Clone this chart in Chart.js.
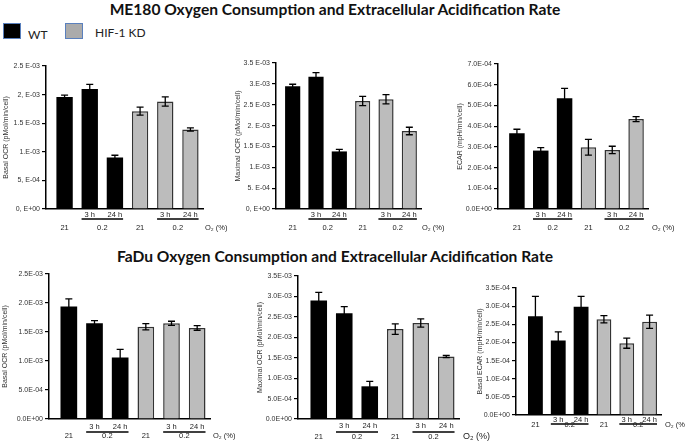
<!DOCTYPE html>
<html>
<head>
<meta charset="utf-8">
<script src="https://cdn.jsdelivr.net/npm/chart.js@4.4.1/dist/chart.umd.min.js"></script>
<style>
  body { margin: 0; background: #fff; }
  #page { position: relative; width: 685px; height: 443px; overflow: hidden; }
  canvas { position: absolute; }
  .title { position: absolute; left: 0; width: 670px; text-align: center; font-family: Lato, sans-serif;
           font-weight: bold; font-size: 15.6px; line-height: 18px; color: #111; white-space: nowrap; }
  .box { position: absolute; width: 16px; height: 14px; border: 1.5px solid #5a80bd; }
  .legend { position: absolute; font-family: Lato, sans-serif; font-size: 12px; line-height: 14px; color: #222; }
</style>
</head>
<body>
<div id="page">
  <div class="title" style="top:0px">ME180 Oxygen Consumption and Extracellular Acidification Rate</div>
  <div class="title" style="top:247px">FaDu Oxygen Consumption and Extracellular Acidification Rate</div>

  <div class="box" style="left:3px; top:23px; background:#000"></div>
  <div class="legend" style="left:28px; top:28px">WT</div>
  <div class="box" style="left:65px; top:23px; background:#ababab"></div>
  <div class="legend" style="left:95px; top:26px">HIF-1 KD</div>

  <canvas id="c1" width="240" height="180" style="left:1px; top:56px"></canvas>
  <canvas id="c2" width="222" height="183" style="left:233px; top:53px"></canvas>
  <canvas id="c3" width="230" height="182" style="left:455px; top:54px"></canvas>
  <canvas id="c4" width="240" height="179" style="left:0px; top:264px"></canvas>
  <canvas id="c5" width="250" height="177" style="left:255px; top:266px"></canvas>
  <canvas id="c6" width="210" height="165" style="left:475px; top:278px"></canvas>
</div>

<script>
// bars: WT 21%, WT 0.2% 3 h, WT 0.2% 24 h, HIF-1 KD 21%, KD 0.2% 3 h, KD 0.2% 24 h
const categories = ['WT 21', 'WT 0.2 3 h', 'WT 0.2 24 h', 'KD 21', 'KD 0.2 3 h', 'KD 0.2 24 h'];
const timeLabels = ['', '3 h', '24 h', '', '3 h', '24 h'];
const o2Labels = ['21', '0.2', '21', '0.2'];
const o2Spans = [[0, 0], [1, 2], [3, 3], [4, 5]];

// ME180
const me180Basal = [1.96e-3, 2.10e-3, 0.90e-3, 1.71e-3, 1.88e-3, 1.39e-3];
const me180BasalErr = [0.03e-3, 0.08e-3, 0.04e-3, 0.07e-3, 0.08e-3, 0.03e-3];
const me180BasalTicks = ['0, E+00', '5, E-04', '1.E-03', '1.5 E-03', '2, E-03', '2.5 E-03'];

const me180Max = [2.94e-3, 3.17e-3, 1.38e-3, 2.59e-3, 2.63e-3, 1.87e-3];
const me180MaxErr = [0.05e-3, 0.10e-3, 0.05e-3, 0.11e-3, 0.11e-3, 0.09e-3];
const me180MaxTicks = ['0, E+00', '5. E-04', '1.E-03', '1.5 E-03', '2. E-03', '2.5 E-03', '3.E-03', '3.5 E-03'];

const me180Ecar = [3.66e-4, 2.82e-4, 5.35e-4, 2.98e-4, 2.85e-4, 4.34e-4];
const me180EcarErr = [0.19e-4, 0.14e-4, 0.47e-4, 0.38e-4, 0.18e-4, 0.12e-4];
const me180EcarTicks = ['0.0E+00', '1.0E-04', '2.0E-04', '3.0E-04', '4.0E-04', '5.0E-04', '6.0E-04', '7.0E-04'];

// FaDu
const faduBasal = [1.94e-3, 1.65e-3, 1.06e-3, 1.59e-3, 1.65e-3, 1.57e-3];
const faduBasalErr = [0.13e-3, 0.045e-3, 0.14e-3, 0.055e-3, 0.035e-3, 0.04e-3];
const faduBasalTicks = ['0.0E+00', '5.0E-04', '1.0E-03', '1.5E-03', '2.0E-03', '2.5E-03'];

const faduMax = [2.90e-3, 2.59e-3, 0.80e-3, 2.20e-3, 2.35e-3, 1.53e-3];
const faduMaxErr = [0.20e-3, 0.16e-3, 0.12e-3, 0.13e-3, 0.10e-3, 0.025e-3];
const faduMaxTicks = ['0.0E+00', '5.0E-04', '1.0E-03', '1.5E-03', '2.0E-03', '2.5E-03', '3.0E-03', '3.5E-03'];

const faduEcar = [2.72e-4, 2.05e-4, 2.98e-4, 2.64e-4, 1.98e-4, 2.57e-4];
const faduEcarErr = [0.55e-4, 0.24e-4, 0.29e-4, 0.10e-4, 0.14e-4, 0.18e-4];
const faduEcarTicks = ['0.0E+00', '5.0E-05', '1.0E-04', '1.5E-04', '2.0E-04', '2.5E-04', '3.0E-04', '3.5E-04'];

const barColors = ['#000', '#000', '#000', '#bcbcbc', '#bcbcbc', '#bcbcbc'];
const barBorders = ['#000', '#000', '#000', '#333', '#333', '#333'];
const barBorderWidths = [0, 0, 0, 1.5, 1.5, 1.5];

// small gap between the y axis line and the first category
const shiftX = {
  id: 'shiftX',
  afterLayout(chart, args, opts) {
    const x = chart.scales.x;
    x._startPixel += opts.gap;
    x._length -= opts.gap;
  }
};

const errorBars = {
  id: 'errorBars',
  afterDatasetsDraw(chart) {
    const ctx = chart.ctx;
    const y = chart.scales.y;
    const ds = chart.data.datasets[0];
    const meta = chart.getDatasetMeta(0);
    ctx.save();
    ctx.strokeStyle = '#000';
    ctx.lineWidth = 1.3;
    meta.data.forEach((bar, i) => {
      const top = y.getPixelForValue(ds.data[i] + ds.errors[i]);
      const bot = y.getPixelForValue(ds.data[i] - ds.errors[i]);
      ctx.beginPath();
      ctx.moveTo(bar.x, top); ctx.lineTo(bar.x, bot);
      ctx.moveTo(bar.x - 3.5, top); ctx.lineTo(bar.x + 3.5, top);
      ctx.moveTo(bar.x - 3.5, bot); ctx.lineTo(bar.x + 3.5, bot);
      ctx.stroke();
    });
    ctx.restore();
  }
};

// "3 h / 24 h" row, bracket line and the O2 (%) row under the x axis
const o2Axis = {
  id: 'o2Axis',
  afterDraw(chart, args, opts) {
    const ctx = chart.ctx;
    const area = chart.chartArea;
    const meta = chart.getDatasetMeta(0);
    ctx.save();
    ctx.fillStyle = '#222';
    ctx.strokeStyle = '#000';
    ctx.lineWidth = 1.3;
    ctx.textAlign = 'center';
    ctx.textBaseline = 'middle';
    ctx.font = '7.5px "Liberation Sans"';
    timeLabels.forEach((t, i) => {
      if (t) ctx.fillText(t, meta.data[i].x, area.bottom + opts.timeY);
    });
    o2Spans.forEach(([a, b], k) => {
      const first = meta.data[a], last = meta.data[b];
      if (b > a) {
        ctx.beginPath();
        ctx.moveTo(first.x - first.width / 2, area.bottom + opts.lineY);
        ctx.lineTo(last.x + last.width / 2, area.bottom + opts.lineY);
        ctx.stroke();
      }
      ctx.fillText(o2Labels[k], (first.x + last.x) / 2, area.bottom + opts.o2Y);
    });
    ctx.textAlign = 'left';
    ctx.font = opts.unitFont || '7.5px "Liberation Sans"';
    ctx.fillText('O\u2082 (%)', area.right + opts.unitX, area.bottom + opts.o2Y);
    ctx.restore();
  }
};

function makeChart(id, values, errors, tickLabels, yMax, yTitle, layout) {
  new Chart(document.getElementById(id), {
    type: 'bar',
    data: {
      labels: categories,
      datasets: [{
        data: values,
        errors: errors,
        backgroundColor: barColors,
        borderColor: barBorders,
        borderWidth: barBorderWidths,
        barPercentage: 0.65,
        categoryPercentage: 1
      }]
    },
    options: {
      responsive: false,
      animation: false,
      devicePixelRatio: 1,
      layout: { padding: { left: 0, top: layout.top, right: layout.right, bottom: layout.bottom } },
      plugins: {
        legend: { display: false },
        tooltip: { enabled: false },
        shiftX: { gap: layout.gap },
        o2Axis: layout.o2
      },
      scales: {
        x: {
          grid: { display: false },
          border: { color: '#000', width: 1.5 },
          ticks: { display: false },
          afterFit(scale) { scale.height = 0; }
        },
        y: {
          min: 0,
          max: yMax,
          ticks: {
            count: tickLabels.length,
            padding: 2,
            color: '#333',
            font: { family: 'Liberation Sans', size: 7 },
            callback: (v, i) => tickLabels[i]
          },
          grid: { drawOnChartArea: false, tickLength: 4, color: '#000', lineWidth: 1.2 },
          border: { color: '#000', width: 1.5 },
          title: {
            display: true,
            text: yTitle,
            color: '#333',
            padding: { top: 1, bottom: 0 },
            font: { family: 'Liberation Sans', size: 7 }
          },
          afterFit(scale) { scale.width = layout.axisW; }
        }
      }
    },
    plugins: [shiftX, errorBars, o2Axis]
  });
}

makeChart('c1', me180Basal, me180BasalErr, me180BasalTicks, 2.5e-3, 'Basal OCR (pMol/min/cell)',
  { axisW: 45, top: 10, right: 38, bottom: 27, gap: 6,
    o2: { timeY: 5.5, lineY: 10, o2Y: 19, unitX: 2 } });
makeChart('c2', me180Max, me180MaxErr, me180MaxTicks, 3.5e-3, 'Maximal OCR (pMol/min/cell)',
  { axisW: 43, top: 10, right: 34, bottom: 27, gap: 5,
    o2: { timeY: 5.5, lineY: 10, o2Y: 19, unitX: 1 } });
makeChart('c3', me180Ecar, me180EcarErr, me180EcarTicks, 7e-4, 'ECAR (mpH/min/cell)',
  { axisW: 43, top: 10, right: 37, bottom: 27, gap: 7,
    o2: { timeY: 5.5, lineY: 10, o2Y: 19, unitX: 4 } });
makeChart('c4', faduBasal, faduBasalErr, faduBasalTicks, 2.5e-3, 'Basal OCR (pMol/min/cell)',
  { axisW: 49, top: 10, right: 30, bottom: 24, gap: 7,
    o2: { timeY: 7.5, lineY: 13, o2Y: 17, unitX: 3 } });
makeChart('c5', faduMax, faduMaxErr, faduMaxTicks, 3.5e-3, 'Maximal OCR (pMol/min/cell)',
  { axisW: 43, top: 10, right: 46, bottom: 24, gap: 8,
    o2: { timeY: 6.5, lineY: 13, o2Y: 17.5, unitX: 4, unitFont: '9px "Liberation Sans"' } });
makeChart('c6', faduEcar, faduEcarErr, faduEcarTicks, 3.5e-4, 'Basal ECAR (mpH/min/cell)',
  { axisW: 41, top: 10, right: 24, bottom: 28, gap: 8,
    o2: { timeY: 5, lineY: 9, o2Y: 9.5, unitX: 4 } });
</script>
</body>
</html>
